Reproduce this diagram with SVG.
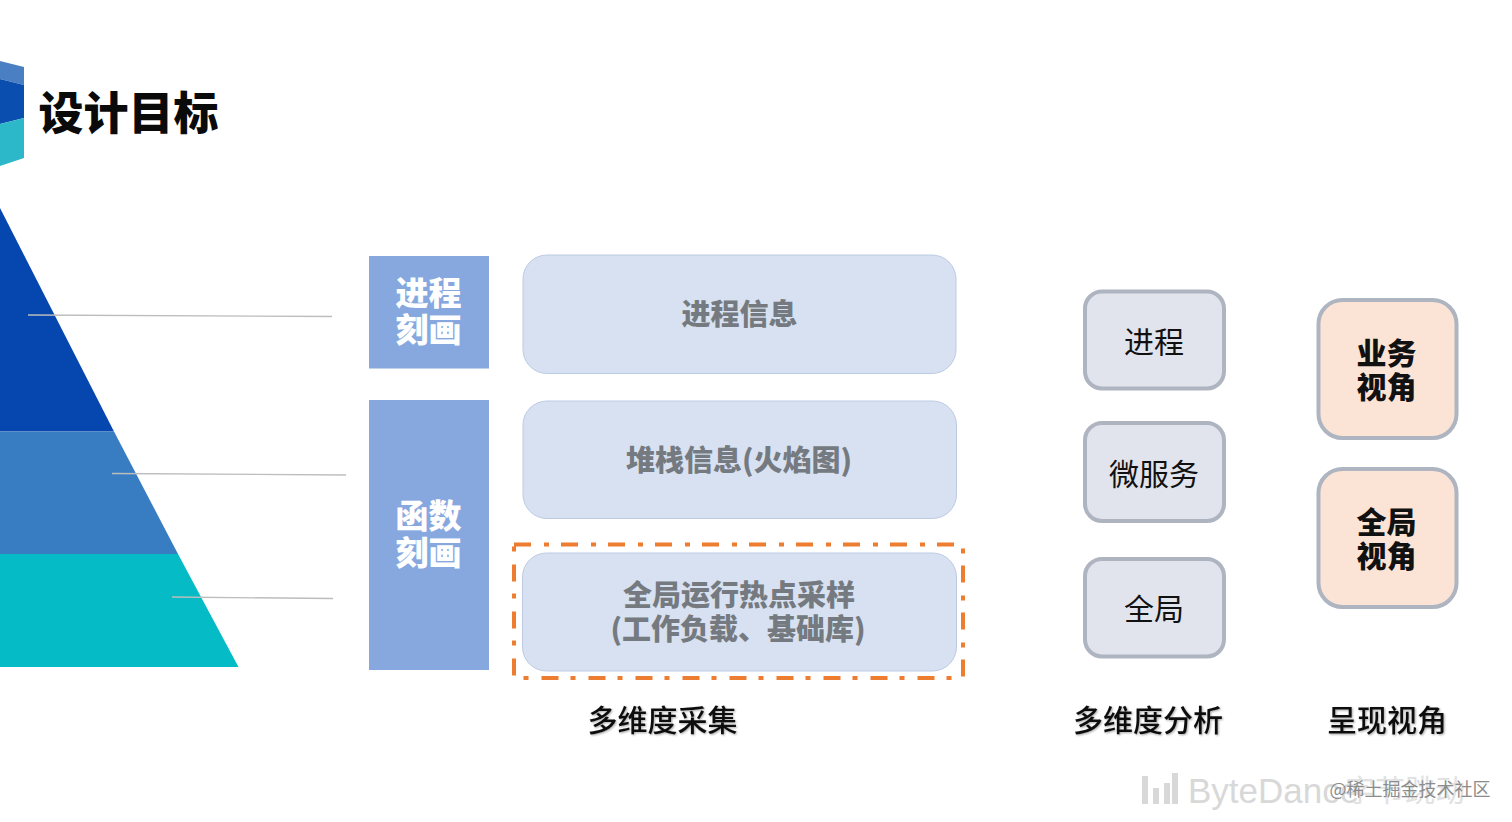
<svg xmlns="http://www.w3.org/2000/svg" width="1512" height="822" viewBox="0 0 1512 822">
<defs>
<filter id="sh" x="-10%" y="-20%" width="120%" height="140%"><feGaussianBlur in="SourceAlpha" stdDeviation="1.2"/><feOffset dx="1" dy="1"/><feComponentTransfer><feFuncA type="linear" slope="0.35"/></feComponentTransfer><feMerge><feMergeNode/><feMergeNode in="SourceGraphic"/></feMerge></filter>
</defs>
<style>
text{font-family:"Noto Sans CJK SC","Liberation Sans",sans-serif;text-anchor:middle}
.side{font-size:33px;font-weight:900;fill:#fff}
.info{fill:#d7e1f1;stroke:#bccbe3;stroke-width:1}
.infot{font-size:29px;font-weight:900;fill:#757a80}
.an{fill:#e1e4ec;stroke:#aeb5c1;stroke-width:4}
.ant{font-size:30px;fill:#111}
.vw{fill:#fbe4d6;stroke:#aeb5c1;stroke-width:4}
.vwt{font-size:30px;font-weight:900;fill:#111}
.cap{font-size:30px;fill:#111;font-weight:500;filter:url(#sh)}
.ld{stroke:#bdbdbd;stroke-width:1.3;fill:none}
.wm{fill:#d8d8d8}
</style>
<rect width="1512" height="822" fill="#fff"/>
<g id="logo">
<polygon points="0,61 24,67 24,85 0,79" fill="#4a7fc4"/>
<polygon points="0,79 24,85 24,118 0,124" fill="#0a4fb0"/>
<polygon points="0,124 24,118 24,158 0,166" fill="#2cb8c8"/>
</g>
<text id="title" x="128.500" y="130" font-size="45" font-weight="900" fill="#0a0a0a">设计目标</text>
<g id="pyramid">
<polygon points="0,208 114,431.500 0,431.500" fill="#0547ae"/>
<polygon points="0,431.500 114,431.500 178,554 0,554" fill="#387dc2"/>
<polygon points="0,554 178,554 238.500,667 0,667" fill="#04bbc6"/>
</g>
<g id="connectors">
<line class="ld" x1="28" y1="315" x2="332" y2="316.500"/>
<line class="ld" x1="112" y1="473.500" x2="346" y2="475"/>
<line class="ld" x1="172" y1="597" x2="333" y2="598.500"/>
</g>
<g id="side-process"><rect x="369" y="256" width="120" height="112.500" fill="#86a8df"/>
<text class="side"><tspan x="428.500" y="305">进程</tspan><tspan x="428.500" y="342">刻画</tspan></text></g>
<g id="side-function"><rect x="369" y="400" width="120" height="270" fill="#86a8df"/>
<text class="side"><tspan x="428.500" y="528">函数</tspan><tspan x="428.500" y="565">刻画</tspan></text></g>
<g id="info-process"><rect class="info" x="523" y="255" width="433" height="118.500" rx="24"/>
<text class="infot" x="739.500" y="325">进程信息</text></g>
<g id="info-stack"><rect class="info" x="523" y="401" width="433.500" height="117.500" rx="24"/>
<text class="infot" x="739" y="471">堆栈信息(火焰图)</text></g>
<g id="highlight"><rect x="514" y="544.500" width="449" height="133.500" fill="none" stroke="#ed7d31" stroke-width="4" stroke-dasharray="17 13 5 12"/></g>
<g id="info-global"><rect class="info" x="522.500" y="553" width="434" height="118" rx="24"/>
<text class="infot"><tspan x="739" y="606">全局运行热点采样</tspan><tspan x="738" y="640">(工作负载、基础库)</tspan></text></g>
<g id="an-process"><rect class="an" x="1085" y="291.500" width="139" height="97" rx="17"/><text class="ant" x="1154" y="353">进程</text></g>
<g id="an-micro"><rect class="an" x="1085" y="423" width="139" height="98" rx="17"/><text class="ant" x="1154" y="485">微服务</text></g>
<g id="an-global"><rect class="an" x="1085" y="559" width="139" height="97.500" rx="17"/><text class="ant" x="1154" y="620">全局</text></g>
<g id="view-biz"><rect class="vw" x="1318.500" y="300" width="138" height="138" rx="24"/>
<text class="vwt"><tspan x="1386.500" y="364">业务</tspan><tspan x="1386.500" y="398">视角</tspan></text></g>
<g id="view-global"><rect class="vw" x="1318.500" y="469" width="138" height="138" rx="24"/>
<text class="vwt"><tspan x="1386.500" y="533">全局</tspan><tspan x="1386.500" y="567">视角</tspan></text></g>
<text class="cap" x="662.500" y="731">多维度采集</text>
<text class="cap" x="1148" y="731">多维度分析</text>
<text class="cap" x="1387" y="731">呈现视角</text>
<g id="watermark">
<rect class="wm" x="1142" y="776" width="6" height="28"/><rect class="wm" x="1153" y="788" width="6" height="16"/><rect class="wm" x="1164" y="783" width="6" height="21"/><rect class="wm" x="1172" y="773" width="6" height="31"/>
<text x="1188" y="803" font-size="35" style="text-anchor:start;font-family:'Liberation Sans',sans-serif" fill="#d8d8d8">ByteDance</text>
<text x="1345" y="801" font-size="30" style="text-anchor:start" fill="#e2e2e2">字节跳动</text>
<text x="1410" y="796" font-size="18" fill="#8c8c8c">@稀土掘金技术社区</text>
</g>
</svg>
